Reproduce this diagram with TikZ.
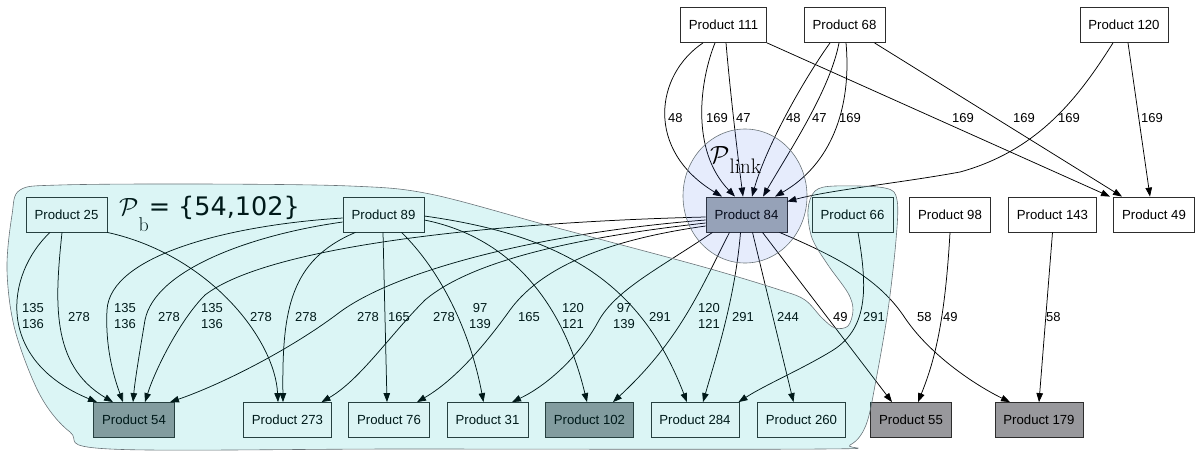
\documentclass[tikz,border=0pt]{standalone}
\usepackage{fontspec}
\newfontfamily\arialfont{Liberation Sans}
\newfontfamily\dejavufont{DejaVu Sans}
\usetikzlibrary{arrows.meta}
\definecolor{prodgray}{RGB}{152,152,156}
\definecolor{hubgray}{RGB}{165,172,178}
\definecolor{boxline}{RGB}{45,45,45}
\definecolor{blobcyan}{RGB}{0,184,184}
\definecolor{linkblue}{RGB}{47,97,230}
\definecolor{rimgray}{RGB}{105,115,120}
\begin{document}
\begin{tikzpicture}[x=1pt,y=-1pt,
    prod/.style={draw=boxline,line width=0.8pt,fill=white,minimum height=35pt,
      inner xsep=8.5pt,inner ysep=0pt,font=\arialfont\fontsize{13.2}{15}\selectfont},
    hit/.style={prod,fill=prodgray},
    hub/.style={prod,fill=hubgray},
    elabel/.style={anchor=west,inner sep=0pt,align=center,
      font=\arialfont\fontsize{13}{16}\selectfont},
    edge/.style={-{Triangle[length=9pt,width=6.5pt]},line width=0.75pt,black}]
  \useasboundingbox (0,0) rectangle (1196,450);
  \draw
    (723.5,25) node[prod] (n111){Product 111}
    (844.5,25) node[prod] (n68){Product 68}
    (1124,25) node[prod] (n120){Product 120}
    (66.5,214.5) node[prod] (n25){Product 25}
    (383.5,214.5) node[prod] (n89){Product 89}
    (746.5,214.5) node[hub] (n84){Product 84}
    (852.5,214.5) node[prod] (n66){Product 66}
    (950,214.5) node[prod] (n98){Product 98}
    (1052.5,214.5) node[prod] (n143){Product 143}
    (1154,214.5) node[prod] (n49){Product 49}
    (134,420) node[hit] (n54){Product 54}
    (287.5,420) node[prod] (n273){Product 273}
    (389,420) node[prod] (n76){Product 76}
    (487.5,420) node[prod] (n31){Product 31}
    (589.5,420) node[hit] (n102){Product 102}
    (695,420) node[prod] (n284){Product 284}
    (801.5,420) node[prod] (n260){Product 260}
    (911,420) node[hit] (n55){Product 55}
    (1039,420) node[hit] (n179){Product 179};
  \begin{scope}[edge]
    \draw ([xshift=-20.5pt]n111.south) .. controls (655,75) and (645,150) .. ([xshift=-24.5pt]n84.north);
    \draw ([xshift=-8.5pt]n111.south) .. controls (700,80) and (690,150) .. ([xshift=-11.5pt]n84.north);
    \draw ([xshift=2.5pt]n111.south) .. controls (730,90) and (737,150) .. ([xshift=-3.5pt]n84.north);
    \draw ([xshift=-14.5pt]n68.south) .. controls (800,85) and (765,150) .. ([xshift=5.5pt]n84.north);
    \draw ([xshift=-5.5pt]n68.south) .. controls (830,90) and (790,150) .. ([xshift=16.5pt]n84.north);
    \draw ([xshift=1.5pt]n68.south) .. controls (852,110) and (830,165) .. ([xshift=28.5pt]n84.north);
    \draw (n111.south east) -- ([xshift=-44pt]n49.north);
    \draw ([xshift=30pt]n68.south) -- ([xshift=-32pt]n49.north);
    \draw ([xshift=-11pt]n120.south) .. controls (1080,95) and (1040,150) .. (960,172)
      .. controls (900,183) and (830,190) .. ([yshift=13pt]n84.east);
    \draw ([xshift=4pt]n120.south) -- ([xshift=-4pt]n49.north);
    \draw ([xshift=-16.5pt]n25.south) .. controls (5,275) and (-5,360) .. ([xshift=-37pt]n54.north);
    \draw ([xshift=-4.5pt]n25.south) .. controls (55,300) and (50,365) .. ([xshift=-21pt]n54.north);
    \draw (n25.south east) .. controls (210,255) and (275,340) .. ([xshift=-9.5pt]n273.north);
    \draw ([yshift=-3.5pt]n89.west) .. controls (230,225) and (110,255) .. (107,310)
      .. controls (105,350) and (115,380) .. ([xshift=-11pt]n54.north);
    \draw ([yshift=-7.5pt]n89.west) .. controls (250,235) and (155,270) .. (145,320)
      .. controls (140,350) and (135,380) .. ([xshift=-1pt]n54.north);
    \draw ([yshift=-2.5pt]n84.west) .. controls (500,222) and (270,245) .. (205,295)
      .. controls (180,320) and (155,370) .. ([xshift=11pt]n54.north);
    \draw ([yshift=-5.5pt]n84.west) .. controls (550,232) and (400,268) .. (340,312)
      .. controls (290,350) and (220,385) .. ([xshift=36pt]n54.north);
    \draw ([xshift=-28pt]n89.south) .. controls (290,260) and (282,310) .. ([xshift=-4.5pt]n273.north);
    \draw ([xshift=-0.5pt]n89.south) -- ([xshift=-2pt]n76.north);
    \draw ([yshift=-8.5pt]n84.west) .. controls (570,238) and (470,262) .. (425,300)
      .. controls (390,335) and (360,380) .. ([xshift=34pt]n273.north);
    \draw ([xshift=18pt]n89.south) .. controls (440,270) and (470,330) .. ([xshift=-4pt]n31.north);
    \draw ([yshift=-11.5pt]n84.west) .. controls (620,238) and (545,262) .. (510,310)
      .. controls (485,345) and (455,380) .. ([xshift=28pt]n76.north);
    \draw ([yshift=-5.5pt]n89.east) .. controls (500,235) and (560,290) .. ([xshift=-2.5pt]n102.north);
    \draw ([xshift=-34pt]n84.south) .. controls (660,268) and (615,290) .. (598,322)
      .. controls (580,355) and (548,385) .. ([xshift=24.5pt]n31.north);
    \draw ([yshift=-1.5pt]n89.east) .. controls (560,235) and (640,280) .. ([xshift=-8pt]n284.north);
    \draw ([xshift=-17pt]n84.south) .. controls (700,290) and (680,340) .. ([xshift=23.5pt]n102.north);
    \draw ([xshift=-6pt]n84.south) .. controls (735,300) and (715,360) .. ([xshift=8pt]n284.north);
    \draw ([xshift=6pt]n84.south) -- ([xshift=-8pt]n260.north);
    \draw ([xshift=16pt]n84.south) -- ([xshift=-19pt]n55.north);
    \draw ([xshift=5.5pt]n66.south) .. controls (868,290) and (868,330) .. (830,352)
      .. controls (800,370) and (765,385) .. ([xshift=-1pt]n284.north east);
    \draw ([xshift=33pt]n84.south) .. controls (840,258) and (880,280) .. (905,318)
      .. controls (930,355) and (975,385) .. ([xshift=-29pt]n179.north);
    \draw (n98.south) .. controls (945,320) and (935,360) .. ([xshift=7pt]n55.north);
    \draw (n143.south) -- (n179.north);
  \end{scope}
  \path
    (668,118) node[elabel] (l1){48}
    (706,118) node[elabel] (l2){169}
    (736,118) node[elabel] (l3){47}
    (786,118) node[elabel] (l4){48}
    (812,118) node[elabel] (l5){47}
    (839,118) node[elabel] (l6){169}
    (952,118) node[elabel] (l7){169}
    (1013,118) node[elabel] (l8){169}
    (1058,118) node[elabel] (l9){169}
    (1141,118) node[elabel] (l10){169}
    (22,316) node[elabel] (l11){135\\136}
    (68,317) node[elabel] (l12){278}
    (250,317) node[elabel] (l13){278}
    (114,316) node[elabel] (l14){135\\136}
    (158,317) node[elabel] (l15){278}
    (201,316) node[elabel] (l16){135\\136}
    (357,317) node[elabel] (l17){278}
    (295,317) node[elabel] (l18){278}
    (388,317) node[elabel] (l19){165}
    (433,317) node[elabel] (l20){278}
    (469,316) node[elabel] (l21){97\\139}
    (518,317) node[elabel] (l22){165}
    (562,316) node[elabel] (l23){120\\121}
    (613,316) node[elabel] (l24){97\\139}
    (649,317) node[elabel] (l25){291}
    (698,316) node[elabel] (l26){120\\121}
    (732,317) node[elabel] (l27){291}
    (777,317) node[elabel] (l28){244}
    (833,317) node[elabel] (l29){49}
    (863,317) node[elabel] (l30){291}
    (917,317) node[elabel] (l31){58}
    (943,317) node[elabel] (l32){49}
    (1046,317) node[elabel] (l33){58};
  \node[anchor=base west,inner sep=0pt] (pb) at (119,215)
    {{\fontsize{26}{26}\selectfont$\mathcal{P}$}\raisebox{-16pt}{\fontsize{20}{20}\selectfont b}{\dejavufont\fontsize{25.5}{25.5}\selectfont= \{54,102\}}};
  \draw[rimgray,line width=0.6pt,fill=blobcyan,fill opacity=0.14]
    plot[smooth cycle,tension=0.55] coordinates {
      (20,190) (60,185) (200,184) (350,186) (430,194) (550,226) (700,266)
      (780,290) (805,300) (822,318) (835,328) (848,326) (853,310) (848,293)
      (828,265) (812,238) (808,210) (815,191) (835,186) (885,188) (897,200)
      (896,240) (888,310) (876,380) (866,425) (850,445) (820,449) (400,449)
      (110,449) (70,432) (40,395) (15,330) (7,270) (12,215)};
  \draw[rimgray,line width=0.6pt,fill=linkblue,fill opacity=0.12]
    (745,196) ellipse [x radius=62pt,y radius=67pt];
  \node[anchor=base west,inner sep=0pt] (plink) at (710,163)
    {{\fontsize{35}{35}\selectfont$\mathcal{P}$}\raisebox{-10pt}{\fontsize{21}{21}\selectfont link}};
\end{tikzpicture}
\end{document}
